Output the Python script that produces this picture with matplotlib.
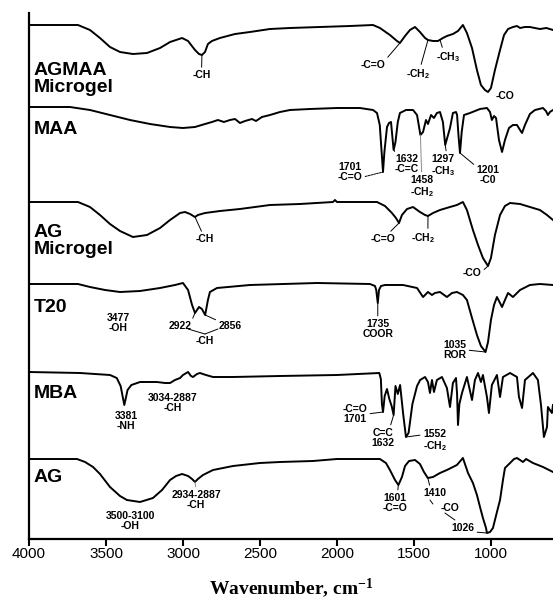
import numpy as np
import matplotlib
matplotlib.use("Agg")
import matplotlib.pyplot as plt

plt.rcParams["font.family"] = ["Liberation Sans", "DejaVu Sans"]
plt.rcParams["mathtext.default"] = "regular"

# ---------------------------------------------------------------------------
# FTIR spectra: wavenumber (cm-1) and transmittance (a.u., relative to the
# baseline of each trace)
# ---------------------------------------------------------------------------
agmaa_wn = [4000, 3682, 3604, 3539, 3474, 3409, 3325, 3234, 3149, 3084,
            3006, 2967, 2922, 2896, 2877, 2857, 2838, 2812, 2760, 2662,
            2565, 2435, 2305, 2110, 1915, 1766, 1721, 1656, 1610, 1591,
            1558, 1526, 1493, 1461, 1428, 1409, 1376, 1344, 1312, 1286,
            1247, 1214, 1182, 1156, 1123, 1091, 1065, 1039, 1019, 1000,
            974, 941, 915, 889, 857, 831, 811, 780, 747, 715,
            682, 640, 597]
agmaa_t = [0, 0, -5, -13, -22, -27, -29, -28, -23, -17,
           -13, -16, -25, -29, -30, -27, -19, -16, -13, -9,
           -7, -4, -3, -2, -1, 0, -3, -10, -16, -18,
           -11, -5, -2, -7, -13, -15, -16, -16, -13, -11,
           -9, -6, 0, -8, -23, -45, -60, -65, -67, -63,
           -45, -25, -10, -4, -2, -1, -3, -2, -2, -3,
           -4, -3, -5]

maa_wn = [4000, 3734, 3604, 3474, 3344, 3214, 3084, 3000, 2922, 2857,
          2812, 2773, 2734, 2695, 2662, 2630, 2597, 2552, 2526, 2487,
          2435, 2370, 2305, 2175, 2000, 1851, 1766, 1740, 1722, 1710,
          1701, 1692, 1675, 1662, 1649, 1640, 1632, 1620, 1605, 1591,
          1552, 1506, 1480, 1458, 1441, 1422, 1409, 1389, 1370, 1351,
          1331, 1312, 1297, 1266, 1247, 1227, 1220, 1210, 1201, 1190,
          1175, 1136, 1071, 1026, 1006, 994, 980, 967, 948, 928,
          909, 883, 857, 831, 811, 798, 779, 747, 714, 662,
          643, 630, 617, 597]
maa_t = [0, 0, -3, -8, -13, -17, -20, -21, -20, -17,
         -15, -13, -15, -13, -12, -16, -14, -12, -14, -10,
         -8, -5, -3, -2, -1, -1, -3, -6, -18, -45,
         -65, -45, -20, -16, -15, -30, -43, -35, -15, -6,
         -3, -3, -8, -28, -25, -13, -17, -8, -11, -6,
         -5, -15, -38, -21, -6, -5, -8, -30, -46, -25,
         -8, -6, -2, -1, -5, -13, -9, -11, -33, -45,
         -33, -21, -18, -18, -23, -26, -18, -7, -3, -1,
         -4, -8, -5, -3]

agmic_wn = [4000, 3682, 3604, 3539, 3474, 3409, 3325, 3234, 3149, 3084,
            3019, 2987, 2954, 2922, 2903, 2857, 2760, 2630, 2435, 2240,
            2026, 2013, 2000, 1851, 1740, 1688, 1643, 1617, 1597, 1578,
            1545, 1506, 1461, 1428, 1409, 1376, 1331, 1266, 1221, 1182,
            1156, 1117, 1084, 1052, 1019, 1000, 974, 941, 909, 876,
            811, 747, 682, 636, 597]
agmic_t = [0, 0, -5, -13, -22, -29, -35, -33, -26, -18,
           -11, -10, -12, -15, -13, -11, -9, -7, -3, -2,
           0, 2, 0, 0, 0, -4, -11, -16, -21, -13,
           -7, -5, -10, -13, -14, -11, -8, -5, -3, 0,
           -8, -28, -43, -56, -64, -56, -33, -13, -4, -1,
           -2, -5, -8, -13, -18]

t20_wn = [4000, 3682, 3604, 3506, 3409, 3279, 3149, 3052, 3000, 2967,
          2941, 2922, 2896, 2877, 2856, 2838, 2825, 2779, 2565, 2130,
          1786, 1753, 1745, 1735, 1727, 1714, 1688, 1571, 1480, 1441,
          1409, 1383, 1364, 1331, 1286, 1253, 1221, 1182, 1156, 1123,
          1091, 1065, 1045, 1035, 1019, 1000, 980, 961, 928, 909,
          889, 857, 811, 747, 682, 597]
t20_t = [0, 0, -3, -6, -8, -7, -4, -1, 1, -6,
         -21, -29, -23, -25, -31, -16, -8, -4, -1, 1,
         0, -2, -6, -19, -6, -2, -1, -1, -4, -13,
         -8, -11, -9, -8, -13, -9, -8, -11, -16, -34,
         -51, -62, -66, -68, -58, -36, -21, -13, -23, -16,
         -9, -13, -6, -1, 0, -1]

mba_wn = [4000, 3669, 3474, 3430, 3405, 3381, 3360, 3335, 3279, 3214,
          3169, 3117, 3084, 3052, 3019, 3000, 2967, 2948, 2935, 2909,
          2890, 2851, 2805, 2675, 2370, 2000, 1725, 1715, 1708, 1701,
          1690, 1675, 1660, 1645, 1632, 1620, 1605, 1590, 1570, 1552,
          1535, 1510, 1480, 1460, 1428, 1409, 1396, 1383, 1370, 1351,
          1318, 1286, 1266, 1247, 1227, 1220, 1214, 1205, 1188, 1156,
          1123, 1104, 1084, 1065, 1052, 1026, 1013, 994, 961, 941,
          922, 876, 831, 818, 798, 779, 727, 695, 675, 656,
          636, 630, 617, 604, 597]
mba_t = [2, 1, -1, -4, -12, -31, -16, -11, -8, -8,
         -8, -9, -9, -6, -4, -1, 2, -2, -3, 0,
         1, -1, -3, -3, -2, -1, 1, -5, -30, -38,
         -22, -15, -25, -32, -41, -12, -20, -11, -40, -63,
         -59, -30, -12, -6, -3, -8, -19, -6, -18, -6,
         -3, -14, -33, -9, -4, -20, -51, -30, -19, -3,
         -26, -6, 1, -8, -1, -23, -39, -11, -1, -23,
         -3, 1, -3, -23, -34, -6, 1, -6, -31, -63,
         -53, -33, -36, -39, -31]

ag_wn = [4000, 3688, 3636, 3584, 3539, 3474, 3409, 3364, 3279, 3195,
         3136, 3084, 3045, 3006, 2967, 2941, 2922, 2903, 2870, 2805,
         2675, 2500, 2370, 2156, 2000, 1721, 1682, 1656, 1623, 1601,
         1578, 1558, 1532, 1493, 1461, 1435, 1410, 1376, 1331, 1286,
         1221, 1182, 1149, 1117, 1091, 1071, 1052, 1032, 1026, 1006,
         987, 961, 941, 922, 909, 876, 850, 831, 811, 792,
         772, 727, 662, 597]
ag_t = [0, 0, -3, -8, -15, -28, -37, -41, -43, -39,
        -31, -21, -17, -15, -17, -20, -23, -20, -16, -11,
        -7, -4, -3, -2, 0, 0, -4, -11, -21, -26,
        -18, -7, -2, -1, -5, -13, -19, -18, -14, -11,
        -6, 1, -14, -24, -36, -48, -59, -69, -74, -73,
        -69, -53, -41, -21, -9, -4, 0, 1, -1, -3,
        0, -4, -8, -13]

sample_names = ["AGMAA\nMicrogel", "MAA", "AG\nMicrogel", "T20", "MBA", "AG"]
xtick_values = [4000, 3500, 3000, 2500, 2000, 1500, 1000]

# vertical stacking of the traces
offsets = [514, 432, 337, 255, 165, 80]
name_heights = [460, 409, 298, 231, 146, 61]

traces = [
    (np.array(agmaa_wn), np.array(agmaa_t)),
    (np.array(maa_wn), np.array(maa_t)),
    (np.array(agmic_wn), np.array(agmic_t)),
    (np.array(t20_wn), np.array(t20_t)),
    (np.array(mba_wn), np.array(mba_t)),
    (np.array(ag_wn), np.array(ag_t)),
]

W, H, DPI = 553, 603, 100
fig = plt.figure(figsize=(W / DPI, H / DPI), dpi=DPI)
ax = fig.add_axes([29 / W, 64 / H, 524 / W, 526 / H])

for (wn, t), off in zip(traces, offsets):
    ax.plot(wn, off + t, color="black", lw=1.4, solid_joinstyle="round")

for name, yh in zip(sample_names, name_heights):
    ax.text(3968, yh, name, ha="left", va="center", fontsize=14,
            fontweight="bold", linespacing=1.0)

FS = 7.5


def level(i, w):
    wn, t = traces[i]
    return offsets[i] + np.interp(w, wn[::-1], t[::-1])


def note(text, xytext, i=None, at=None, relpos=(0.5, 0.5), color="black",
         ls="-", conn="arc3"):
    if i is None:
        ax.text(*xytext, text, ha="center", va="center", fontsize=FS,
                fontweight="bold", linespacing=1.1)
        return
    ax.annotate(text, xy=(at, level(i, at)), xytext=xytext,
                ha="center", va="center", fontsize=FS, fontweight="bold",
                linespacing=1.1,
                arrowprops=dict(arrowstyle="-", color=color, lw=0.7, ls=ls,
                                shrinkA=0, shrinkB=0, relpos=relpos,
                                connectionstyle=conn))


def leader(p, q, color="black"):
    ax.annotate("", xy=q, xytext=p,
                arrowprops=dict(arrowstyle="-", color=color, lw=0.7,
                                shrinkA=0, shrinkB=0))


# AGMAA microgel
note("-CH", (2880, 464), 0, 2877)
note("-C=O", (1766, 474), 0, 1591, relpos=(1, 1))
note("-CH$_2$", (1474, 465), 0, 1409, relpos=(0.6, 1))
note("-CH$_3$", (1279, 482), 0, 1331, relpos=(0.3, 1))
note("-CO", (909, 443))

# MAA
note("1701\n-C=O", (1915, 367), 1, 1701, relpos=(1, 0.25), ls=(0, (2, 1)))
note("1632\n-C=C", (1545, 375), 1, 1632, relpos=(0, 0.8),
     conn="angle,angleA=0,angleB=90,rad=0")
note("1458\n-CH$_2$", (1450, 352), 1, 1458, relpos=(0.5, 1), color="#8a8a8a")
note("1297\n-CH$_3$", (1312, 373), 1, 1297, relpos=(0.65, 1))
note("1201\n-C0", (1019, 364), 1, 1201, relpos=(0, 0.9))

# AG microgel
note("-CH", (2857, 300), 2, 2922)
note("-C=O", (1701, 300), 2, 1597)
note("-CH$_2$", (1441, 301), 2, 1409, relpos=(0.7, 1))
note("-CO", (1123, 266), 2, 1019, relpos=(1, 0.6))

# T20
note("3477\n-OH", (3422, 216))
note("2922", (3019, 213), 3, 2922, relpos=(1, 1))
note("2856", (2695, 213), 3, 2856, relpos=(0, 1))
note("-CH", (2857, 198))
leader((2967, 210), (2857, 205))
leader((2857, 205), (2773, 210))
note("1735\nCOOR", (1735, 210), 3, 1735, relpos=(0.5, 1))
note("1035\nROR", (1234, 189), 3, 1035, relpos=(1, 0.5))

# MBA
note("3381\n-NH", (3370, 118))
note("3034-2887\n-CH", (3065, 136))
note("-C=O\n1701", (1883, 125), 4, 1701, relpos=(1, 0.5))
note("C=C\n1632", (1701, 101), 4, 1632, relpos=(0.8, 1))
note("1552\n-CH$_2$", (1364, 98), 4, 1552, relpos=(0, 0.75))

# AG
note("3500-3100\n-OH", (3344, 18))
note("2934-2887\n-CH", (2915, 39), 5, 2922, relpos=(0.5, 1), color="#8a8a8a")
note("1601\n-C=O", (1623, 36), 5, 1601, relpos=(0.6, 1))
note("1410", (1364, 46), 5, 1410, relpos=(0.3, 1))
note("-CO", (1266, 31))
leader((1396, 39), (1377, 35))
leader((1299, 26), (1234, 19))
note("1026", (1182, 11), 5, 1026, relpos=(1, 0.1))

ax.set_xlim(4000, 597)
ax.set_ylim(0, 526)
ax.set_xticks(xtick_values)
ax.set_xticklabels([str(v) for v in xtick_values])
ax.set_yticks([])
for side in ("top", "right"):
    ax.spines[side].set_visible(False)
for side in ("left", "bottom"):
    ax.spines[side].set_linewidth(1.6)
ax.tick_params(axis="x", direction="out", length=5, width=1.5, pad=1,
               labelsize=11)
ax.set_xlabel("Wavenumber, cm$^{-1}$", family=["Liberation Serif"],
              fontweight="bold", fontsize=14, labelpad=11)

fig.savefig("out.png", dpi=DPI, facecolor="white")
